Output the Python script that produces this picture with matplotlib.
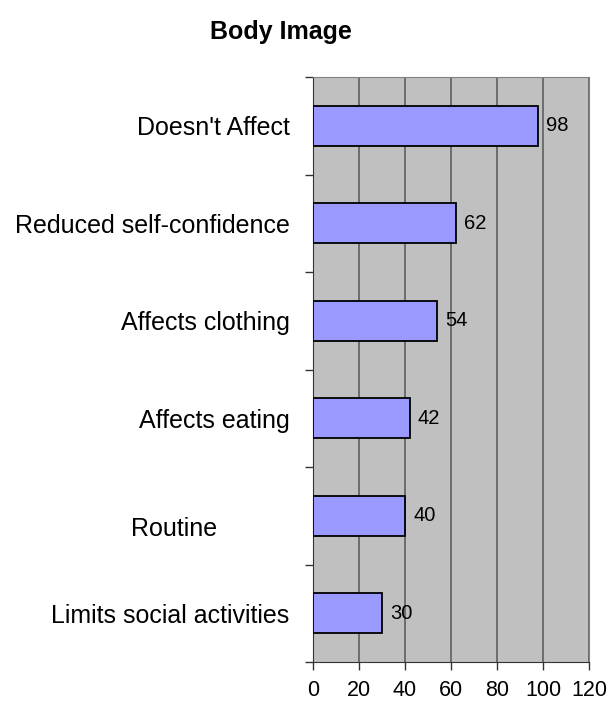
import numpy as np
import matplotlib.pyplot as plt

plt.rcParams['font.family'] = ['Liberation Sans', 'DejaVu Sans']

# Body image responses (top to bottom)
categories = ["Doesn't Affect", "Reduced self-confidence", "Affects clothing",
              "Affects eating", "", "Limits social activities"]
values = [98, 62, 54, 42, 40, 30]
xticks = [0, 20, 40, 60, 80, 100, 120]

fig = plt.figure(figsize=(6.14, 7.02), dpi=100)
ax = fig.add_axes([313 / 614, 1 - 662 / 702, 276 / 614, 585 / 702])

n = len(categories)
y = np.arange(n)[::-1]
ax.set_facecolor('#C0C0C0')
ax.barh(y, values, height=0.41, color='#9999FF', edgecolor='black', linewidth=1.3, zorder=3)

for yi, v in zip(y, values):
    ax.text(v + 3.5, yi, str(v), va='center', ha='left', fontsize=14.5, zorder=4)

ax.set_xlim(0, 120)
ax.set_ylim(-0.5, n - 0.5)
ax.set_xticks(xticks)
ax.set_xticklabels([str(t) for t in xticks], fontsize=15.5)
ax.xaxis.grid(True, color='#555555', linewidth=1.1, zorder=1)
ax.set_axisbelow(True)

# category labels, ticks at boundaries
ax.set_yticks(y)
ax.set_yticklabels(categories, fontsize=18)
ax.tick_params(axis='y', length=0, pad=17)
ax.set_yticks(np.arange(n + 1) - 0.5, minor=True)
ax.tick_params(axis='y', which='minor', length=6, width=1, color='#333333')
ax.tick_params(axis='x', length=6, width=1, color='#333333', pad=7)

# label for the "Routine" bar sits lower
ax.text(-60.5, y[4] - 0.14, "Routine", ha='center', va='center', fontsize=18,
        transform=ax.transData, clip_on=False)

for s in ['top', 'right']:
    ax.spines[s].set_color('#808080')
for s in ['left', 'bottom']:
    ax.spines[s].set_color('#333333')

fig.text(281 / 614, 1 - 32 / 702, "Body Image", ha='center', va='center',
         fontsize=18, fontweight='bold')

fig.savefig('out.png', dpi=100)
